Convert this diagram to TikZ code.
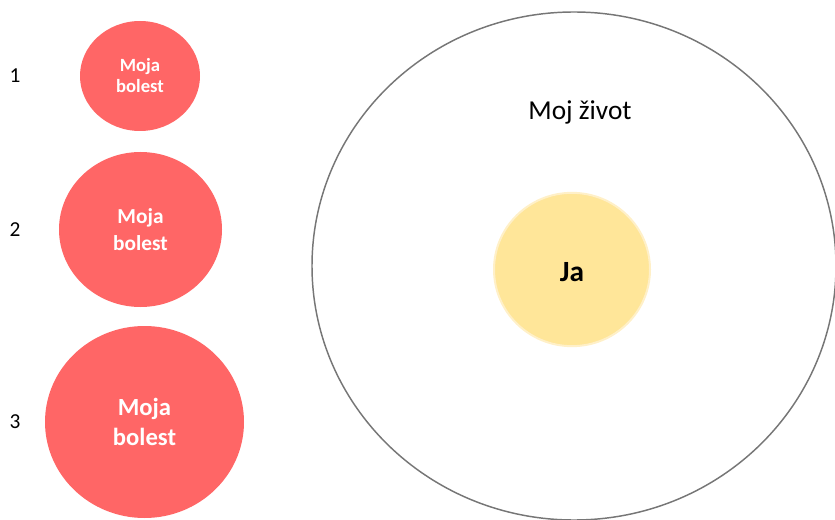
\documentclass[tikz,border=0pt]{standalone}
\usepackage{fontspec}
\setmainfont{Carlito}
\usepackage{tikz}
\usetikzlibrary{shapes}
\usetikzlibrary{positioning}
\definecolor{painred}{HTML}{FF6666}
\definecolor{selfyellow}{HTML}{FFE699}
\definecolor{selfrim}{HTML}{FFF0C8}
\definecolor{lifegray}{HTML}{767676}

\begin{document}
\begin{tikzpicture}[x=0.75pt,y=-0.75pt]
\tikzstyle{pain}=[ellipse, fill=painred, text=white, font=\bfseries, align=center, inner sep=0pt]
\tikzstyle{num}=[anchor=base, font=\fontsize{16}{19}\selectfont]
\useasboundingbox (0,0) rectangle (835,520);
% my life, with me in the middle
\node[ellipse, draw=lifegray, line width=1.1pt, minimum width=393pt, minimum height=381pt] (life) at (574,266) {};
\node[ellipse, fill=selfyellow, draw=selfrim, line width=1.5pt, minimum width=117pt, minimum height=115pt] (me) at (572,269.5) {};
\node[anchor=base, font=\fontsize{22}{26}\selectfont\bfseries] (ja) at (572,281.7) {Ja};
\node[anchor=base, font=\fontsize{20.5}{24}\selectfont] (zivot) at (580,119.3) {Moj život};
% growing pain
\node[pain, minimum width=90pt, minimum height=82.5pt, font=\fontsize{14}{15.75}\selectfont\bfseries] (P1) at (140,76) {Moja\\bolest};
\node[pain, minimum width=122.25pt, minimum height=116.25pt, font=\fontsize{16}{20.25}\selectfont\bfseries] (P2) at (140.5,229.5) {Moja\\bolest};
\node[pain, minimum width=149.25pt, minimum height=144pt, font=\fontsize{18.5}{23}\selectfont\bfseries] (P3) at (144.5,422) {Moja\\bolest};
\node[num] (N1) at (15,83) {1};
\node[num] (N2) at (15,237) {2};
\node[num] (N3) at (15,428) {3};
\end{tikzpicture}
\end{document}
